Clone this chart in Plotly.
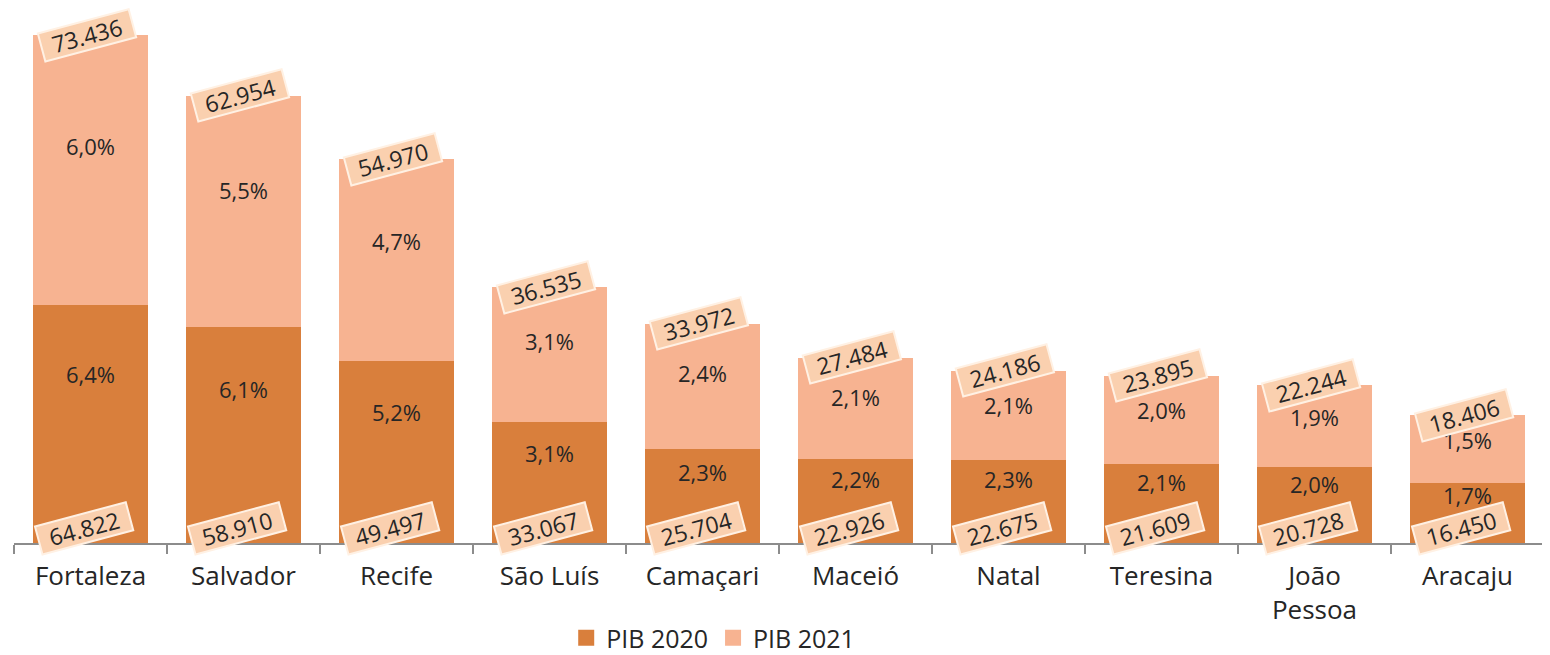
import plotly.graph_objects as go

cities = ["Fortaleza", "Salvador", "Recife", "São Luís", "Camaçari", "Maceió",
          "Natal", "Teresina", "João<br>Pessoa", "Aracaju"]
pib2020 = [64.822, 58.910, 49.497, 33.067, 25.704, 22.926, 22.675, 21.609, 20.728, 16.450]
pib2021 = [73.436, 62.954, 54.970, 36.535, 33.972, 27.484, 24.186, 23.895, 22.244, 18.406]
pct2020 = ["6,4%", "6,1%", "5,2%", "3,1%", "2,3%", "2,2%", "2,3%", "2,1%", "2,0%", "1,7%"]
pct2021 = ["6,0%", "5,5%", "4,7%", "3,1%", "2,4%", "2,1%", "2,1%", "2,0%", "1,9%", "1,5%"]
lbl2020 = ["64.822", "58.910", "49.497", "33.067", "25.704", "22.926", "22.675", "21.609", "20.728", "16.450"]
lbl2021 = ["73.436", "62.954", "54.970", "36.535", "33.972", "27.484", "24.186", "23.895", "22.244", "18.406"]

C_DARK = "#D97F3C"
C_LIGHT = "#F7B391"
FONT = "Open Sans"
TXT = "#262626"

fig = go.Figure()
fig.add_trace(go.Bar(x=cities, y=pib2020, name="PIB 2020", marker_color=C_DARK,
                     marker_line_width=0, showlegend=False, hoverinfo="skip"))
fig.add_trace(go.Bar(x=cities, y=pib2021, name="PIB 2021", marker_color=C_LIGHT,
                     marker_line_width=0, showlegend=False, hoverinfo="skip"))
# legend entries with larger square swatches
for nm, col in [("PIB 2020", C_DARK), ("PIB 2021", C_LIGHT)]:
    fig.add_trace(go.Scatter(x=[None], y=[None], mode="markers", name=nm,
                             marker=dict(symbol="square", size=16, color=col)))

totals = [a + b for a, b in zip(pib2020, pib2021)]

# percentage labels inside segments
for c, v, p in zip(cities, pib2020, pct2020):
    fig.add_annotation(x=c, y=v * 0.68, yshift=7, text=p, showarrow=False,
                       font=dict(family=FONT, size=22, color=TXT))
for c, v0, v, p in zip(cities, pib2020, pib2021, pct2021):
    fig.add_annotation(x=c, y=v0 + v * 0.58, yshift=3, text=p, showarrow=False,
                       font=dict(family=FONT, size=22, color=TXT))

box = dict(showarrow=False, textangle=-15,
           font=dict(family=FONT, size=23, color=TXT),
           bgcolor="#FAD0AF", bordercolor="#FFF1E4", borderwidth=2,
           borderpad=1, width=90, height=25)
for c, t, l in zip(cities, totals, lbl2021):
    fig.add_annotation(x=c, y=t, text=l, xshift=-4, yshift=0, **box)
for c, l in zip(cities, lbl2020):
    fig.add_annotation(x=c, y=0, text=l, xshift=-7, yshift=15, **box)

fig.update_layout(
    width=1550, height=655,
    barmode="stack", bargap=0.25,
    plot_bgcolor="white", paper_bgcolor="white",
    margin=dict(l=6, r=14, t=21, b=120, autoexpand=False),
    font=dict(family=FONT, color=TXT),
    legend=dict(orientation="h", x=0.457, xanchor="center",
                yref="container", y=0.038, yanchor="middle",
                font=dict(family=FONT, size=25, color=TXT), traceorder="normal",
                itemwidth=30, bgcolor="rgba(0,0,0,0)"),
    xaxis=dict(showline=True, linecolor="#8C8C8C", linewidth=1.5, ticks="outside",
               tickson="boundaries", ticklen=9, tickcolor="#8C8C8C", tickwidth=1.5,
               tickfont=dict(family=FONT, size=26, color=TXT), showgrid=False,
               automargin=False, ticklabelstandoff=9, fixedrange=True),
    yaxis=dict(range=[0, 140], visible=False, showgrid=False, automargin=False,
               fixedrange=True),
)

fig.write_html("out.html")
